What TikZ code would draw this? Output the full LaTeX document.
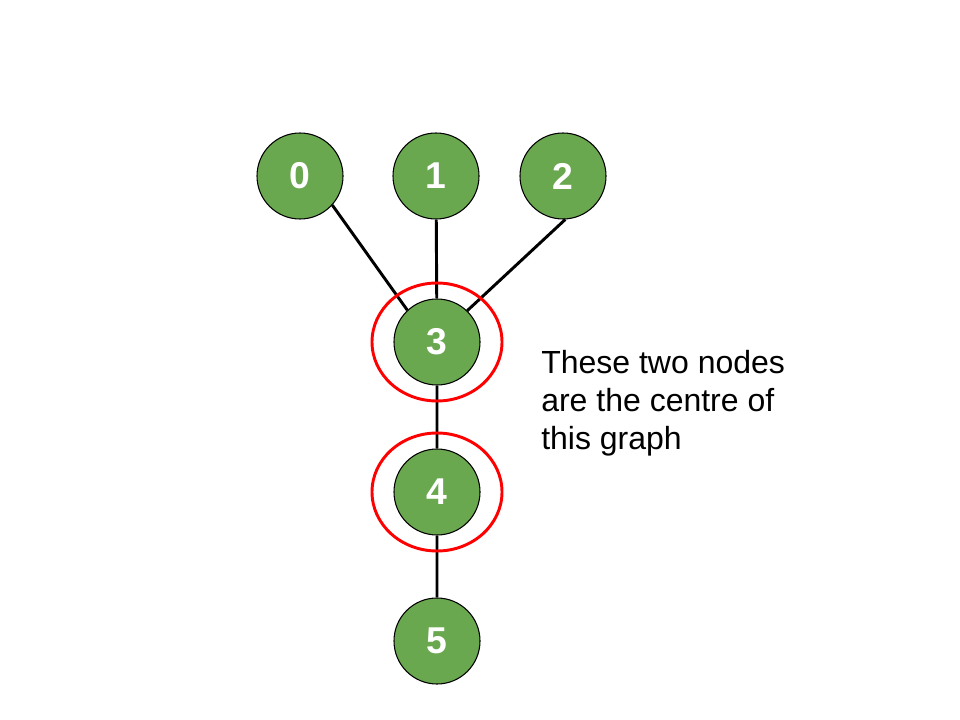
\documentclass[tikz,border=0pt]{standalone}
\usepackage{fontspec}
\setmainfont{Liberation Sans}
\usetikzlibrary{arrows}
\definecolor{leafgreen}{HTML}{6AA84F}

\begin{document}
\begin{tikzpicture}[x=0.75pt,y=-0.75pt,
    vertex/.style={circle,draw=black,thick,fill=leafgreen,minimum size=64.5pt,
      inner sep=0pt,text=white,font=\fontsize{28}{30}\selectfont\bfseries},
    centre/.style={draw=red,line width=2.2pt},
    link/.style={draw=black,line width=2.2pt}]

  \useasboundingbox (0,0) rectangle (960,720);

  \node[vertex] (0) at (300,176) {0};
  \node[vertex] (1) at (436,176) {1};
  \node[vertex] (2) at (563,176) {2};
  \node[vertex] (3) at (437,342) {3};
  \node[vertex] (4) at (437,492) {4};
  \node[vertex] (5) at (437,641) {5};

  \draw[link]
  (0.-42) -- (3.133)
  (1) -- (3)
  (2.-87) -- (3.46)
  (3) -- (4)
  (4) -- (5);

  % the two centre nodes
  \draw[centre] (3) ellipse [x radius=65,y radius=59];
  \draw[centre] (4) ellipse [x radius=65,y radius=59];

  \node[anchor=north west,inner sep=0pt,align=left,
    font=\fontsize{24}{28.5}\selectfont] (note) at (541,350)
    {These two nodes\\are the centre of\\this graph};

\end{tikzpicture}
\end{document}
